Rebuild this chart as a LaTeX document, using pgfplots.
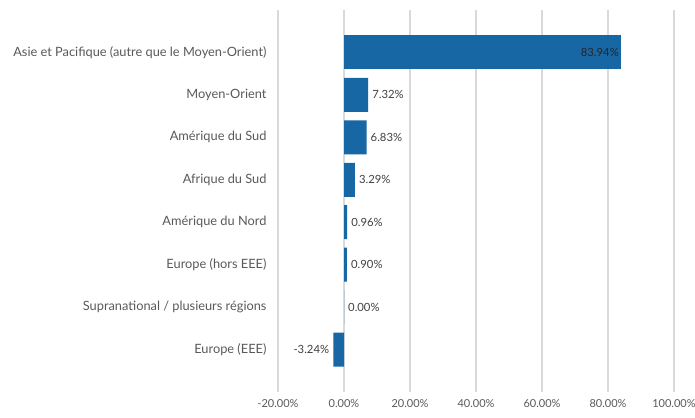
\documentclass[border=0pt]{standalone}
\usepackage{pgfplots}
\pgfplotsset{compat=1.18}
\usepackage{fontspec}
\setmainfont{Lato}
\definecolor{barblue}{HTML}{1767A5}
\definecolor{gridgray}{HTML}{D9D9D9}
\definecolor{labgray}{HTML}{595959}
\definecolor{valgray}{HTML}{404040}
\begin{document}
\begin{tikzpicture}
\path[use as bounding box] (0,0) rectangle (695pt,417pt);
\begin{axis}[
  at={(278pt,25pt)}, anchor=south west,
  scale only axis, width=396pt, height=382pt,
  xmin=-20, xmax=100, ymin=-1, ymax=8,
  y dir=reverse,
  xtick={-20,0,20,40,60,80,100},
  ytick={0,1,2,3,4,5,6,7},
  yticklabels={Asie et Pacifique (autre que le Moyen-Orient),Moyen-Orient,Amérique du Sud,Afrique du Sud,Amérique du Nord,Europe (hors EEE),Supranational / plusieurs régions,Europe (EEE)},
  xticklabel={\pgfmathprintnumber[fixed,fixed zerofill,precision=2,assume math mode=true]{\tick}\%},
  /pgf/number format/assume math mode=true,
  major tick length=0pt,
  axis line style={draw=none},
  xmajorgrids, grid style={gridgray, line width=2.2pt},
  tick label style={font=\fontsize{11}{13}\selectfont, text=labgray},
  xticklabel style={yshift=-4pt},
  yticklabel style={xshift=-8pt, font=\fontsize{12.8}{15}\selectfont},
  xbar, bar shift=0pt, bar width=34pt,
  point meta=x,
  clip=false,
]
\addplot[fill=barblue, draw=none,
  nodes near coords={\pgfmathprintnumber[fixed,fixed zerofill,precision=2,assume math mode=true]{\pgfplotspointmeta}\%},
  nodes near coords align=horizontal,
  every node near coord/.append style={font=\fontsize{11.3}{13}\selectfont, text=valgray, inner sep=4pt}]
  coordinates {(7.32,1) (6.83,2) (3.29,3) (0.96,4) (0.90,5) (0.00,6) (-3.24,7)};
\addplot[fill=barblue, draw=none,
  nodes near coords={\pgfmathprintnumber[fixed,fixed zerofill,precision=2,assume math mode=true]{\pgfplotspointmeta}\%},
  every node near coord/.append style={anchor=east, font=\fontsize{11.3}{13}\selectfont, text=black!85, inner sep=2pt}]
  coordinates {(83.94,0)};
\end{axis}
\end{tikzpicture}
\end{document}
